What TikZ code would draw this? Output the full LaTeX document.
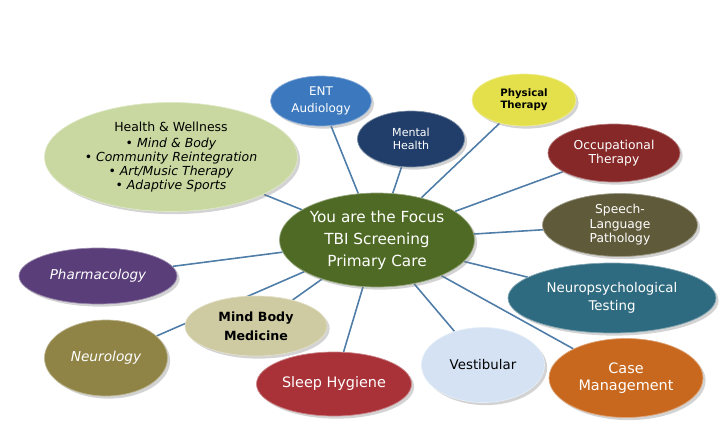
\documentclass[tikz,border=0pt]{standalone}
\usepackage{fontspec}
\setmainfont{DejaVu Sans}
\usetikzlibrary{shapes,shadows,backgrounds}

\definecolor{linkblue}{RGB}{80,125,168}
\definecolor{wellgreen}{RGB}{200,216,160}
\definecolor{entblue}{RGB}{60,120,190}
\definecolor{mentalnavy}{RGB}{32,62,105}
\definecolor{physyellow}{RGB}{228,224,76}
\definecolor{occred}{RGB}{135,40,40}
\definecolor{speecholive}{RGB}{95,90,58}
\definecolor{focusgreen}{RGB}{78,106,36}
\definecolor{pharmpurple}{RGB}{90,62,122}
\definecolor{mindbeige}{RGB}{206,202,162}
\definecolor{neurolive}{RGB}{143,132,70}
\definecolor{sleepred}{RGB}{168,50,56}
\definecolor{vestblue}{RGB}{212,226,244}
\definecolor{npteal}{RGB}{47,107,128}
\definecolor{caseorange}{RGB}{200,104,30}

\tikzstyle{bubble} = [ellipse, inner sep=0pt, align=center, text=white,
    drop shadow={opacity=0.35, shadow xshift=1.5pt, shadow yshift=-1.5pt}]
\tikzstyle{line} = [draw, color=linkblue, line width=0.9pt]

\begin{document}
\begin{tikzpicture}[x=0.02cm, y=-0.02cm]
		\useasboundingbox (0,0) rectangle (728,446);

		\node [bubble, fill=focusgreen, draw=focusgreen!60!white, minimum width=3.9cm, minimum height=1.88cm,
			font=\fontsize{8.7}{12.5}\selectfont] (focus) at (377,240) {You are the Focus\\TBI Screening\\Primary Care};

		\node [bubble, fill=wellgreen, draw=wellgreen!60!white, text=black, minimum width=5.06cm, minimum height=2.18cm,
			font=\fontsize{7.1}{8}\selectfont] (health) at (171,157)
			{Health \& Wellness\\[1pt] \itshape • Mind \& Body\\ \itshape • Community Reintegration\\ \itshape • Art/Music Therapy\\ \itshape • Adaptive Sports};
		\node [bubble, fill=entblue, draw=entblue!60!white, minimum width=2.02cm, minimum height=1cm,
			font=\fontsize{6.8}{10}\selectfont] (ent) at (321,101) {ENT\\Audiology};
		\node [bubble, fill=mentalnavy, draw=mentalnavy!60!white, minimum width=2.14cm, minimum height=1.12cm,
			font=\fontsize{6.3}{7.5}\selectfont] (mental) at (411,139) {Mental\\Health};
		\node [bubble, fill=physyellow, draw=physyellow!60!white, text=black, minimum width=2.08cm, minimum height=1.04cm,
			font=\fontsize{5.8}{6.9}\selectfont\bfseries] (physical) at (524,100) {Physical\\Therapy};
		\node [bubble, fill=occred, draw=occred!60!white, minimum width=2.64cm, minimum height=1.16cm,
			font=\fontsize{7}{8}\selectfont] (occupational) at (614,153) {Occupational\\Therapy};
		\node [bubble, fill=speecholive, draw=speecholive!60!white, minimum width=3.1cm, minimum height=1.26cm,
			font=\fontsize{7}{8.2}\selectfont] (speech) at (620,225) {Speech-\\Language\\Pathology};
		\node [bubble, fill=npteal, draw=npteal!60!white, minimum width=4.16cm, minimum height=1.4cm,
			font=\fontsize{7.6}{10}\selectfont] (neuropsych) at (612,298) {Neuropsychological\\Testing};
		\node [bubble, fill=caseorange, draw=caseorange!60!white, minimum width=3.08cm, minimum height=1.58cm,
			font=\fontsize{8.2}{9.6}\selectfont] (case) at (626,378) {Case\\Management};
		\node [bubble, fill=vestblue, draw=vestblue!60!white, text=black, minimum width=2.46cm, minimum height=1.5cm,
			font=\fontsize{7.6}{9}\selectfont] (vestibular) at (483,365) {Vestibular};
		\node [bubble, fill=sleepred, draw=sleepred!60!white, minimum width=3.1cm, minimum height=1.28cm,
			font=\fontsize{8.2}{9}\selectfont] (sleep) at (334,384) {Sleep Hygiene};
		\node [bubble, fill=mindbeige, draw=mindbeige!60!white, text=black, minimum width=2.84cm, minimum height=1.2cm,
			font=\fontsize{7.2}{11}\selectfont\bfseries] (mindbody) at (256,326) {Mind Body\\Medicine};
		\node [bubble, fill=neurolive, draw=neurolive!60!white, minimum width=2.46cm, minimum height=1.52cm,
			font=\fontsize{7.8}{9}\selectfont\itshape] (neurology) at (106,358) {Neurology};
		\node [bubble, fill=pharmpurple, draw=pharmpurple!60!white, minimum width=3.16cm, minimum height=1.12cm,
			font=\fontsize{7.7}{9}\selectfont\itshape] (pharmacology) at (98,276) {Pharmacology};

		\begin{pgfonlayer}{background}
		\path [line] (focus) -- (health);
		\path [line] (focus) -- (ent);
		\path [line] (focus) -- (mental);
		\path [line] (focus) -- (physical);
		\path [line] (focus) -- (occupational);
		\path [line] (focus) -- (speech);
		\path [line] (focus) -- (neuropsych);
		\path [line] (focus) -- (case);
		\path [line] (focus) -- (vestibular);
		\path [line] (focus) -- (sleep);
		\path [line] (focus) -- (mindbody);
		\path [line] (focus) -- (neurology);
		\path [line] (focus) -- (pharmacology);
		\end{pgfonlayer}
	\end{tikzpicture}
\end{document}
